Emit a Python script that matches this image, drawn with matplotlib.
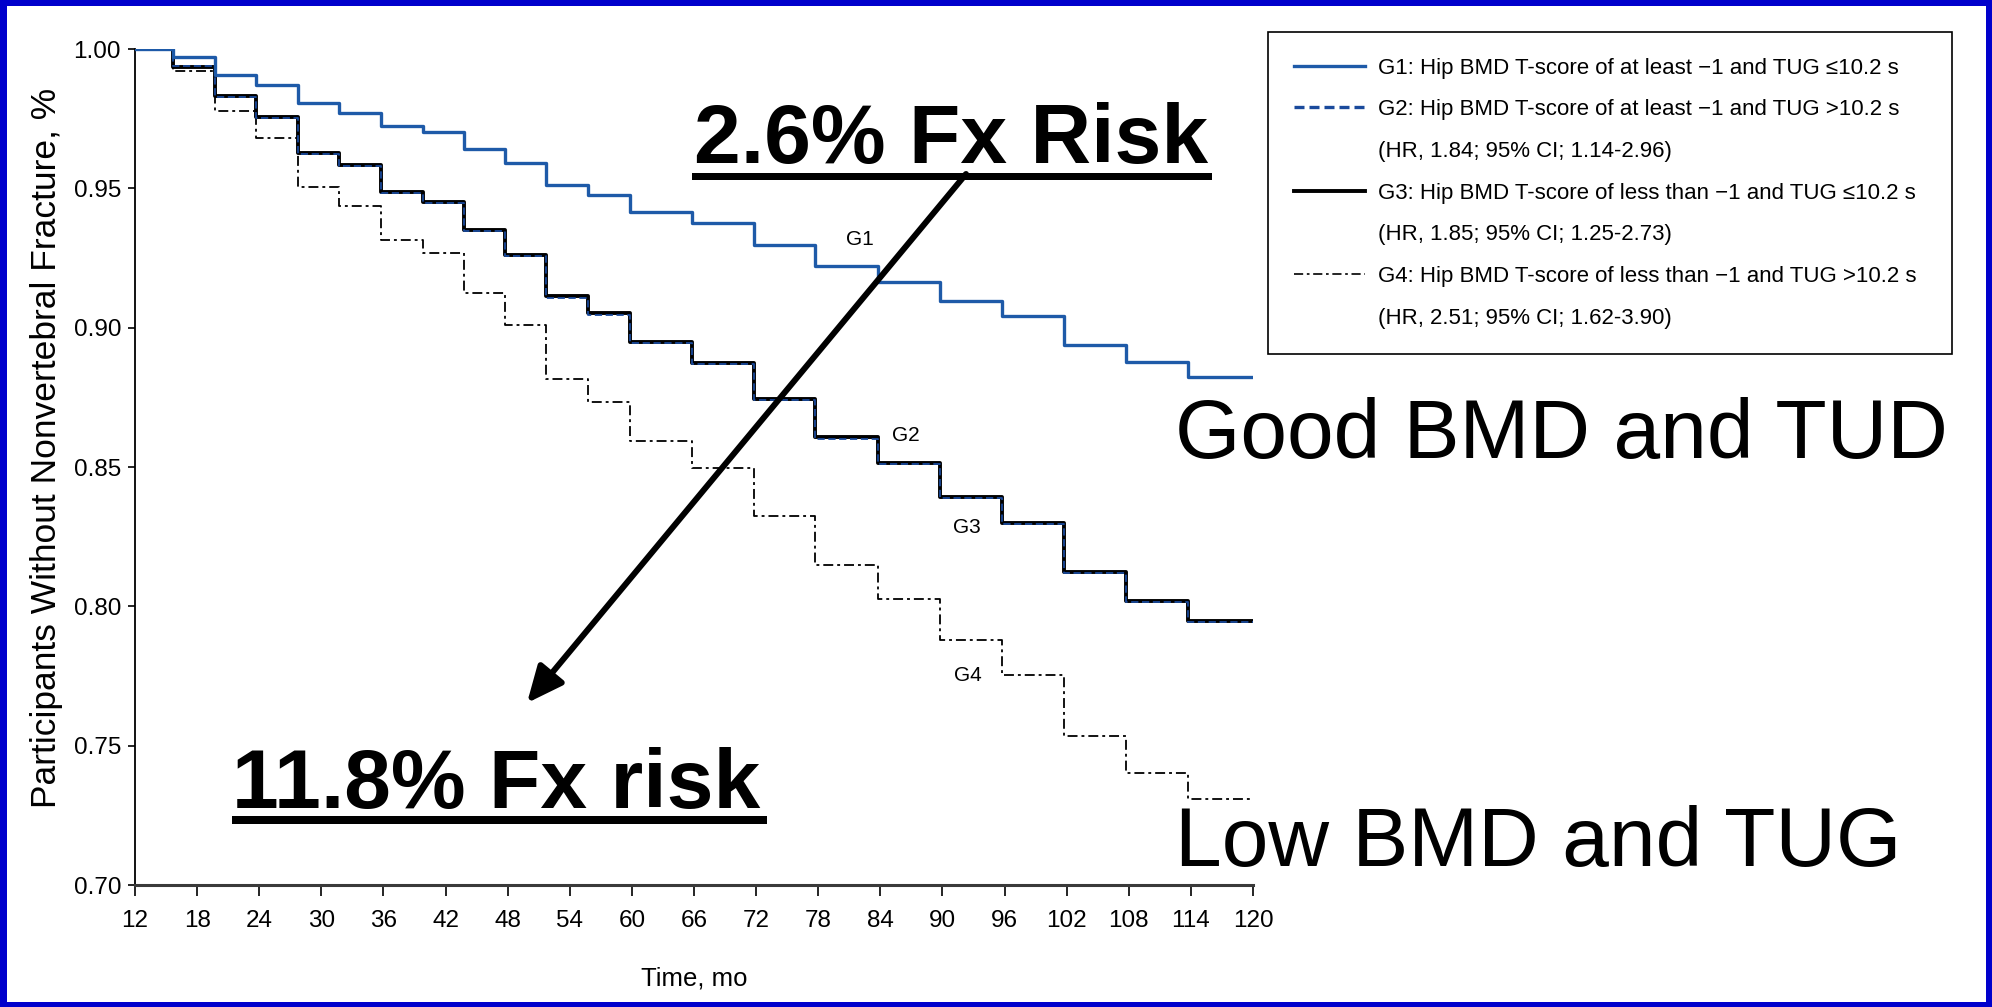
import matplotlib
matplotlib.use('Agg')
import matplotlib.pyplot as plt
from matplotlib.lines import Line2D
from matplotlib.patches import Rectangle, FancyArrowPatch

W, H = 1992, 1007

# months at which the survival curves step down (last entry = end of follow-up)
times = [12, 15.7, 19.7, 23.7, 27.7, 31.7, 35.8, 39.8, 43.8, 47.7, 51.7, 55.8,
         59.8, 65.8, 71.8, 77.7, 83.8, 89.8, 95.8, 101.7, 107.7, 113.7, 120]

g1 = [1.000, 0.9970, 0.9907, 0.9871, 0.9806, 0.9770, 0.9725, 0.9703, 0.9640,
      0.9592, 0.9512, 0.9476, 0.9416, 0.9374, 0.9297, 0.9221, 0.9165, 0.9097,
      0.9043, 0.8938, 0.8878, 0.8824, 0.8824]
g2 = [1.000, 0.9940, 0.9826, 0.9752, 0.9624, 0.9580, 0.9484, 0.9448, 0.9346,
      0.9256, 0.9108, 0.9047, 0.8945, 0.8868, 0.8739, 0.8602, 0.8509, 0.8389,
      0.8296, 0.8120, 0.8016, 0.7944, 0.7944]
g3 = [1.000, 0.9935, 0.9831, 0.9757, 0.9628, 0.9584, 0.9488, 0.9452, 0.9350,
      0.9260, 0.9113, 0.9051, 0.8949, 0.8872, 0.8743, 0.8606, 0.8513, 0.8393,
      0.8300, 0.8124, 0.8020, 0.7948, 0.7948]
g4 = [1.000, 0.9920, 0.9779, 0.9680, 0.9505, 0.9438, 0.9315, 0.9267, 0.9123,
      0.9009, 0.8814, 0.8734, 0.8593, 0.8497, 0.8324, 0.8148, 0.8028, 0.7879,
      0.7753, 0.7534, 0.7402, 0.7307, 0.7307]

# curve labels (month, value)
curve_labels = ['G1', 'G2', 'G3', 'G4']
label_t = [82.0, 86.5, 92.4, 92.5]
label_v = [0.9318, 0.8614, 0.8284, 0.7753]

xticks = [12, 18, 24, 30, 36, 42, 48, 54, 60, 66, 72, 78, 84, 90, 96, 102, 108, 114, 120]
yticks = [0.70, 0.75, 0.80, 0.85, 0.90, 0.95, 1.00]
ytick_labels = ['0.70', '0.75', '0.80', '0.85', '0.90', '0.95', '1.00']

legend_labels = [
    'G1: Hip BMD T-score of at least \u22121 and TUG \u226410.2 s',
    'G2: Hip BMD T-score of at least \u22121 and TUG >10.2 s',
    '(HR, 1.84; 95% CI; 1.14-2.96)',
    'G3: Hip BMD T-score of less than \u22121 and TUG \u226410.2 s',
    '(HR, 1.85; 95% CI; 1.25-2.73)',
    'G4: Hip BMD T-score of less than \u22121 and TUG >10.2 s',
    '(HR, 2.51; 95% CI; 1.62-3.90)',
]

sans = ['Liberation Sans', 'DejaVu Sans']
blue1 = '#1e5aa8'
blue2 = '#1a4a9c'
dashdot = (0, (5.5, 2.2, 1.6, 2.2))


def px(x, y):
    # pixel position (from top-left) -> figure fraction
    return x / W, 1 - y / H


fig = plt.figure(figsize=(W / 100, H / 100), dpi=100)
fig.patch.set_facecolor('#0000cc')
x0, y0 = px(7, 1002)
fig.add_artist(Rectangle((x0, y0), (1986 - 7) / W, (1002 - 6) / H,
                         transform=fig.transFigure, facecolor='white',
                         edgecolor='none', zorder=-1))

ax = fig.add_axes([135 / W, 1 - 885 / H, (1253 - 135) / W, (885 - 49) / H])
ax.set_facecolor('white')

ax.step(times, g1, where='post', color=blue1, lw=2.4, zorder=3)
ax.step(times, g3, where='post', color='black', lw=2.8, zorder=2)
ax.step(times, g2, where='post', color=blue2, lw=1.3, ls=(0, (4, 2)), zorder=2.5)
ax.step(times, g4, where='post', color='black', lw=1.3, ls=dashdot, zorder=2)

for name, t, v in zip(curve_labels, label_t, label_v):
    ax.text(t, v, name, ha='center', va='center', fontsize=15, family=sans)

ax.set_xlim(12, 120)
ax.set_ylim(0.70, 1.00)
ax.set_xticks(xticks)
ax.set_xticklabels([str(t) for t in xticks], fontsize=17.5, family=sans)
ax.set_yticks(yticks)
ax.set_yticklabels(ytick_labels, fontsize=17.5, family=sans)
ax.tick_params(axis='y', length=5, width=1.2, pad=5)
ax.tick_params(axis='x', length=8, width=1.2, pad=10)
for side in ['top', 'right']:
    ax.spines[side].set_visible(False)
ax.spines['left'].set_linewidth(1.3)
ax.spines['bottom'].set_linewidth(2.2)
ax.spines['bottom'].set_color('#3a3a3a')

ax.set_xlabel('Time, mo', fontsize=18.5, family=sans)
ax.xaxis.set_label_coords(0.5, -0.097)
ax.set_ylabel('Participants Without Nonvertebral Fracture, %', fontsize=25.5, family=sans)
ax.yaxis.set_label_coords(-0.064, 0.523)

# legend
blank = Line2D([], [], color='none')
handles = [
    Line2D([], [], color=blue1, lw=2.4),
    Line2D([], [], color=blue2, lw=2.4, ls=(0, (3, 1.5))),
    blank,
    Line2D([], [], color='black', lw=2.8),
    blank,
    Line2D([], [], color='black', lw=1.2, ls=dashdot),
    blank,
]
lx, ly = px(1268, 32)
leg = fig.legend(handles, legend_labels, loc='upper left',
                 bbox_to_anchor=(lx, ly - 0.01, (1952 - 1268) / W, 0.01),
                 mode='expand', borderaxespad=0,
                 prop={'family': sans, 'size': 16},
                 handlelength=3.2, handletextpad=0.6, labelspacing=0.93,
                 borderpad=1.15, fancybox=False, edgecolor='black', framealpha=1)
leg.get_frame().set_linewidth(1.2)

# slide annotations
tx, ty = px(694, 163)
fig.text(tx, ty, '2.6% Fx Risk', fontsize=60.5, fontweight='bold', family=sans,
         ha='left', va='baseline')
ux, uy = px(692, 180)
fig.add_artist(Rectangle((ux, uy), (1212 - 692) / W, 7 / H, transform=fig.transFigure,
                         facecolor='black', edgecolor='none', zorder=3))

tx, ty = px(232, 808)
fig.text(tx, ty, '11.8% Fx risk', fontsize=60.5, fontweight='bold', family=sans,
         ha='left', va='baseline')
ux, uy = px(232, 824)
fig.add_artist(Rectangle((ux, uy), (767 - 232) / W, 8 / H, transform=fig.transFigure,
                         facecolor='black', edgecolor='none', zorder=3))

tx, ty = px(1175, 458)
fig.text(tx, ty, 'Good BMD and TUD', fontsize=60.5, family=sans, ha='left', va='baseline')
tx, ty = px(1175, 866)
fig.text(tx, ty, 'Low BMD and TUG', fontsize=60.5, family=sans, ha='left', va='baseline')

arrow = FancyArrowPatch(px(966, 174), px(527, 703), transform=fig.transFigure,
                        arrowstyle='-|>,head_length=1.0,head_width=0.45',
                        mutation_scale=22, lw=4.3, color='black',
                        shrinkA=0, shrinkB=0, zorder=4)
fig.add_artist(arrow)

fig.savefig('out.png', dpi=100, facecolor=fig.get_facecolor())
